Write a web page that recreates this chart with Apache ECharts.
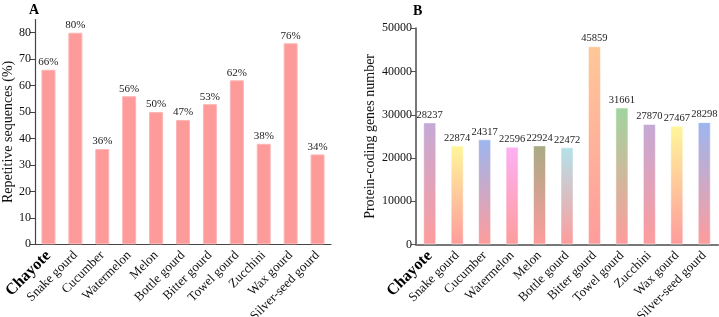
<!DOCTYPE html>
<html>
<head>
<meta charset="utf-8">
<script src="https://cdn.jsdelivr.net/npm/echarts@6/dist/echarts.min.js"></script>
<style>
  html, body { margin: 0; padding: 0; background: #fff; }
  #main { width: 719px; height: 317px; }
</style>
</head>
<body>
<div id="main"></div>
<script>
// species on x axis (same in both panels)
const species = ['Chayote', 'Snake gourd', 'Cucumber', 'Watermelon', 'Melon', 'Bottle gourd',
  'Bitter gourd', 'Towel gourd', 'Zucchini', 'Wax gourd', 'Silver-seed gourd']
// panel A: repetitive sequences (%)
const repeatPct = [66, 80, 36, 56, 50, 47, 53, 62, 38, 76, 34]
const repeatTicks = [0, 10, 20, 30, 40, 50, 60, 70, 80]
// panel B: protein-coding genes
const geneCount = [28237, 22874, 24317, 22596, 22924, 22472, 45859, 31661, 27870, 27467, 28298]
// top colour of each gradient bar, all fade to pink at bottom
const topColors = ['#c4a9d6', '#fff69a', '#9cb6f0', '#fdb0f4', '#a8aa84', '#b3e2ea',
  '#ffc898', '#9fd59c', '#c4a9d6', '#fff69a', '#9cb6f0']
const bottomColor = '#fe9c9c'

const serif = 'Liberation Serif'

const xLabel = {
  interval: 0,
  rotate: 45,
  margin: 9,
  fontFamily: serif,
  fontSize: 13,
  color: '#111',
  formatter: function (v, i) {
    return i === 0 ? '{b|' + v + '}' : v
  },
  rich: {
    b: { fontFamily: serif, fontSize: 16, fontWeight: 'bold', color: '#000' }
  }
}

const chart = echarts.init(document.getElementById('main'))
const option = {
  backgroundColor: '#fff',
  animation: false,
  textStyle: { fontFamily: serif },
  title: [
    { text: 'A', left: 24, top: -2, textStyle: { fontFamily: serif, fontSize: 14, fontWeight: 'bold', color: '#000' } },
    { text: 'B', left: 408, top: -1, textStyle: { fontFamily: serif, fontSize: 14, fontWeight: 'bold', color: '#000' } }
  ],
  grid: [
    { left: 35, width: 296, top: 19.5, bottom: 72.7, outerBoundsMode: 'none', containLabel: false },
    { left: 416, right: 1, top: 28.3, bottom: 72.5, outerBoundsMode: 'none', containLabel: false }
  ],
  xAxis: [
    {
      gridIndex: 0,
      type: 'category',
      data: species,
      axisLine: { lineStyle: { color: '#444', width: 1.2 } },
      axisTick: { alignWithLabel: true, length: 4, lineStyle: { color: '#444' } },
      axisLabel: xLabel
    },
    {
      gridIndex: 1,
      type: 'category',
      data: species,
      axisLine: { lineStyle: { color: '#777', width: 2 } },
      axisTick: { alignWithLabel: true, length: 4, lineStyle: { color: '#555' } },
      axisLabel: xLabel
    }
  ],
  yAxis: [
    {
      gridIndex: 0,
      type: 'value',
      min: 0,
      max: 85,
      name: 'Repetitive sequences (%)',
      nameLocation: 'middle',
      nameGap: 20,
      nameTextStyle: { fontFamily: serif, fontSize: 14, color: '#111' },
      axisLine: { show: true, lineStyle: { color: '#444', width: 1.2 } },
      axisTick: { show: true, length: 5, customValues: repeatTicks, lineStyle: { color: '#444' } },
      axisLabel: {
        customValues: repeatTicks,
        formatter: function (v) { return String(v) },
        fontFamily: serif, fontSize: 12, color: '#111', margin: 4
      },
      splitLine: { show: false }
    },
    {
      gridIndex: 1,
      type: 'value',
      min: 0,
      max: 50000,
      interval: 10000,
      name: 'Protein-coding genes number',
      nameLocation: 'middle',
      nameGap: 39,
      nameTextStyle: { fontFamily: serif, fontSize: 14, color: '#111' },
      axisLine: { show: true, lineStyle: { color: '#777', width: 2 } },
      axisTick: { show: true, length: 5, lineStyle: { color: '#555' } },
      axisLabel: {
        formatter: function (v) { return String(v) },
        fontFamily: serif, fontSize: 12, color: '#111', margin: 4
      },
      splitLine: { show: false }
    }
  ],
  series: [
    {
      type: 'bar',
      xAxisIndex: 0,
      yAxisIndex: 0,
      data: repeatPct,
      barWidth: 14,
      itemStyle: { color: '#fd9a9a', borderColor: '#fdb6b6', borderWidth: 1 },
      label: {
        show: true,
        position: 'top',
        distance: 2,
        formatter: '{c}%',
        fontFamily: serif,
        fontSize: 11,
        color: '#222'
      }
    },
    {
      type: 'bar',
      xAxisIndex: 1,
      yAxisIndex: 1,
      barWidth: 13,
      data: geneCount.map(function (v, i) {
        return {
          value: v,
          itemStyle: {
            color: new echarts.graphic.LinearGradient(0, 0, 0, 1, [
              { offset: 0, color: topColors[i] },
              { offset: 1, color: bottomColor }
            ]),
            borderColor: 'rgba(255,255,255,0.5)',
            borderWidth: 1
          }
        }
      }),
      label: {
        show: true,
        position: 'top',
        distance: 2,
        fontFamily: serif,
        fontSize: 10.5,
        color: '#222'
      }
    }
  ]
}
chart.setOption(option)
</script>
</body>
</html>
